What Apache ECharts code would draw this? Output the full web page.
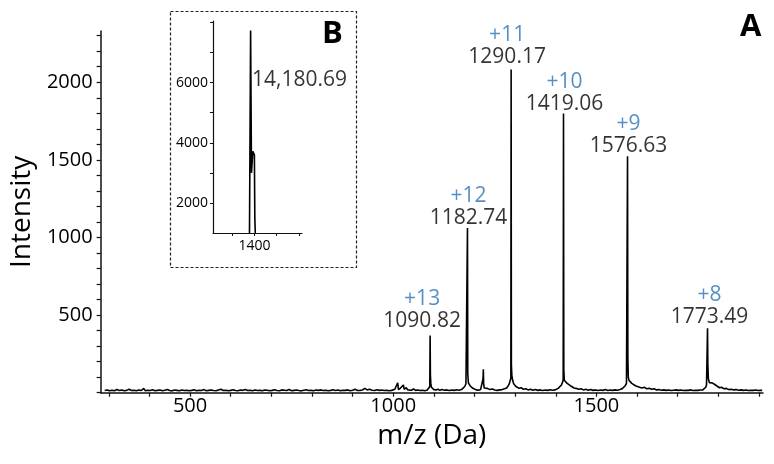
<!DOCTYPE html>
<html>
<head>
<meta charset="utf-8">
<script src="https://cdn.jsdelivr.net/npm/echarts@6/dist/echarts.min.js"></script>
<style>
html,body{margin:0;padding:0;background:#fff;}
#chart{width:774px;height:464px;}
</style>
</head>
<body>
<div id="chart"></div>
<script>
// ---- main spectrum (m/z, intensity) ----
const spectrumPoints = [
  [290,14],[296,18],[302,12],[308,16],[314,13],[320,20],[326,14],[332,17],[338,12],[344,15],
  [350,22],[356,14],[362,16],[368,12],[374,18],[380,14],[386,28],[390,13],[396,16],[402,14],
  [408,19],[414,12],[420,15],[426,17],[432,13],[438,16],[444,21],[450,14],[456,12],[462,17],
  [468,15],[474,13],[480,18],[486,14],[492,16],[498,12],[504,15],[510,19],[516,13],[522,16],
  [528,14],[534,20],[540,12],[546,15],[552,17],[558,14],[564,13],[570,18],[576,22],[582,14],
  [588,16],[594,12],[600,15],[606,19],[612,14],[618,13],[624,17],[630,15],[636,21],[642,14],
  [648,16],[654,12],[660,18],[666,14],[672,15],[678,13],[684,17],[690,16],[696,12],[702,15],
  [708,19],[714,14],[720,13],[726,18],[732,16],[738,14],[744,20],[750,13],[756,15],[762,17],
  [768,14],[774,12],[780,16],[786,19],[792,14],[798,15],[804,13],[810,17],[816,15],[822,18],
  [828,14],[834,16],[840,13],[846,15],[852,19],[858,14],[864,17],[870,12],[876,16],[882,15],
  [888,18],[894,13],[900,16],[906,22],[912,14],[918,15],[924,17],[930,28],[936,18],[942,22],
  [948,16],[954,14],[960,19],[966,15],[972,17],[978,14],[984,16],[990,13],[996,15],
  [1004,22],[1008,18],[1011,64],[1013,20],[1018,30],[1022,18],[1025,50],[1027,22],[1032,32],[1036,18],
  [1040,28],[1045,16],[1050,25],[1055,15],[1060,18],[1066,14],[1072,16],[1078,13],[1084,17],[1088,20],
  [1090,40],[1090.82,368],[1091.5,113],[1092.5,60],[1094,35],[1097,25],[1100,20],[1105,18],[1110,22],[1115,15],
  [1120,20],[1126,16],[1132,18],[1138,14],[1144,17],[1150,15],[1156,19],[1162,16],[1168,20],[1172,25],
  [1176,40],[1179,58],[1181,64],[1182,70],[1182.74,1061],[1183.5,120],[1185,64],[1187,55],[1189,45],[1192,35],
  [1196,28],[1200,22],[1205,18],[1210,16],[1215,20],[1219,30],[1221,90],[1221.8,151],[1222.5,60],[1224,30],
  [1228,22],[1232,28],[1238,20],[1244,24],[1250,17],[1256,15],[1262,18],[1268,20],[1274,25],[1279,30],
  [1283,45],[1286,60],[1288,80],[1289.5,93],[1290.17,2082],[1290.8,178],[1292,110],[1294,80],[1296,60],[1299,48],
  [1302,40],[1306,35],[1310,28],[1315,32],[1320,22],[1326,26],[1332,18],[1338,22],[1344,16],[1350,20],
  [1356,15],[1362,18],[1368,14],[1374,17],[1380,15],[1386,19],[1392,16],[1398,18],[1402,22],[1406,28],
  [1410,35],[1414,50],[1417,70],[1418.3,86],[1419.06,1798],[1419.8,150],[1421,80],[1424,70],[1428,60],[1432,50],
  [1436,45],[1440,38],[1445,30],[1450,28],[1456,22],[1462,26],[1468,18],[1474,22],[1480,16],[1486,20],
  [1492,15],[1498,18],[1504,14],[1510,17],[1516,15],[1522,20],[1528,14],[1534,17],[1540,15],[1546,18],
  [1552,16],[1558,20],[1563,25],[1567,32],[1571,45],[1574,60],[1575.8,71],[1576.63,1523],[1577.4,221],[1578.5,100],
  [1580,80],[1583,70],[1587,60],[1591,55],[1596,45],[1600,40],[1606,35],[1612,30],[1618,35],[1624,25],
  [1630,28],[1636,22],[1642,25],[1648,18],[1654,20],[1660,16],[1666,18],[1672,15],[1678,17],[1684,14],
  [1690,16],[1696,18],[1702,15],[1708,17],[1714,14],[1720,16],[1726,15],[1732,18],[1738,14],[1744,16],
  [1750,15],[1756,17],[1762,18],[1766,25],[1769,35],[1771,50],[1772.7,60],[1773.49,415],[1774.2,190],[1775.5,90],
  [1778,65],[1782,55],[1786,62],[1790,50],[1794,48],[1798,40],[1803,32],[1808,35],[1814,25],[1820,28],
  [1826,20],[1832,22],[1838,18],[1844,20],[1850,16],[1856,18],[1862,15],[1868,17],[1874,14],[1880,16],
  [1886,15],[1892,17],[1898,14],[1904,16],[1908,15]
];

// ---- labelled charge-state peaks ----
const peakMz = [1090.82, 1182.74, 1290.17, 1419.06, 1576.63, 1773.49];
const peakIntensity = [368, 1061, 2082, 1798, 1523, 415];
const peakCharge = ['+13', '+12', '+11', '+10', '+9', '+8'];
const peakLabel = ['1090.82', '1182.74', '1290.17', '1419.06', '1576.63', '1773.49'];

// ---- main axes ticks ----
const xTickValues = [300,400,500,600,700,800,900,1000,1100,1200,1300,1400,1500,1600,1700,1800,1900];
const xLabelValues = [500, 1000, 1500];
const yTickValues = [0,100,200,300,400,500,600,700,800,900,1000,1100,1200,1300,1400,1500,1600,1700,1800,1900,2000,2100,2200,2300];
const yLabelValues = [500, 1000, 1500, 2000];

// ---- inset (deconvoluted) ----
const insetPoints = [
  [1389,1000],[1391.5,7730],[1393.5,3000],[1396.5,3720],[1398,3680],[1400,3600],[1401,1500],[1402,1000]
];
const insetPeak = [1391.5, 7730];
const insetPeakLabel = '14,180.69';
const insetXTicks = [1350, 1400, 1450, 1500];
const insetXLabels = [1400];
const insetYTicks = [2000, 3000, 4000, 5000, 6000, 7000, 8000];
const insetYLabels = [2000, 4000, 6000];

// ---- build chart ----
const FONT = '"Open Sans", "Noto Sans", sans-serif';
const BLUE = '#2b74b6';
const AXIS = '#111111';
const TXT = '#000000';
const plain = v => String(v);

const labelOffsets = [[-8,-3],[1,2],[-4,0],[1,2],[1,2],[2,1]];
const peakData = peakMz.map((m, i) => ({
  value: [m, peakIntensity[i]],
  label: {
    offset: labelOffsets[i],
    formatter: '{c|' + peakCharge[i] + '}\n{m|' + peakLabel[i] + '}'
  }
}));

const chart = echarts.init(document.getElementById('chart'), null, {renderer: 'canvas'});
chart.setOption({
  animation: false,
  backgroundColor: '#ffffff',
  textStyle: {fontFamily: FONT},
  grid: [
    {left: 100, right: 11, top: 31, bottom: 71.3},
    {left: 213, right: 472, top: 21, bottom: 231}
  ],
  xAxis: [
    {
      type: 'value', gridIndex: 0, min: 280, max: 1910,
      name: 'm/z (Da)', nameLocation: 'middle', nameGap: 29,
      nameTextStyle: {fontSize: 28, color: TXT, fontFamily: FONT},
      axisLine: {show: true, onZero: false, lineStyle: {color: AXIS, width: 1.5}},
      axisTick: {show: true, customValues: xTickValues, length: 4, lineStyle: {color: AXIS, width: 1.2}},
      axisLabel: {customValues: xLabelValues, formatter: plain, fontSize: 20, color: TXT, margin: 4, fontFamily: FONT},
      splitLine: {show: false}
    },
    {
      type: 'value', gridIndex: 1, min: 1307, max: 1507,
      axisLine: {show: true, onZero: false, lineStyle: {color: AXIS, width: 1.2}},
      axisTick: {show: true, customValues: insetXTicks, length: 3, lineStyle: {color: AXIS, width: 1}},
      axisLabel: {customValues: insetXLabels, formatter: plain, fontSize: 14, color: TXT, margin: 6, fontFamily: FONT},
      splitLine: {show: false}
    }
  ],
  yAxis: [
    {
      type: 'value', gridIndex: 0, min: 0, max: 2330,
      name: 'Intensity', nameLocation: 'middle', nameGap: 64,
      nameTextStyle: {fontSize: 28, color: TXT, fontFamily: FONT},
      axisLine: {show: true, onZero: false, lineStyle: {color: AXIS, width: 1.5}},
      axisTick: {show: true, customValues: yTickValues, length: 4, lineStyle: {color: AXIS, width: 1.2}},
      axisLabel: {customValues: yLabelValues, formatter: plain, fontSize: 20, color: TXT, margin: 8, fontFamily: FONT},
      splitLine: {show: false}
    },
    {
      type: 'value', gridIndex: 1, min: 1000, max: 8050,
      axisLine: {show: true, onZero: false, lineStyle: {color: AXIS, width: 1.2}},
      axisTick: {show: true, customValues: insetYTicks, length: 3, lineStyle: {color: AXIS, width: 1}},
      axisLabel: {customValues: insetYLabels, formatter: plain, fontSize: 14, color: TXT, margin: 5, fontFamily: FONT},
      splitLine: {show: false}
    }
  ],
  series: [
    {
      type: 'line', xAxisIndex: 0, yAxisIndex: 0, data: spectrumPoints,
      showSymbol: false, symbol: 'none', silent: true,
      lineStyle: {color: '#000', width: 1.6}
    },
    {
      type: 'scatter', xAxisIndex: 0, yAxisIndex: 0, data: peakData,
      symbolSize: 0, silent: true,
      label: {
        show: true, position: 'top', distance: 1,
        rich: {
          c: {color: BLUE, fontSize: 21, lineHeight: 22, fontFamily: FONT, align: 'center'},
          m: {color: TXT, fontSize: 21, lineHeight: 22, fontFamily: FONT, align: 'center'}
        }
      }
    },
    {
      type: 'line', xAxisIndex: 1, yAxisIndex: 1, data: insetPoints,
      showSymbol: false, symbol: 'none', silent: true,
      lineStyle: {color: '#000', width: 1.6}
    },
    {
      type: 'scatter', xAxisIndex: 1, yAxisIndex: 1, data: [insetPeak],
      symbolSize: 0, silent: true,
      label: {
        show: true, position: 'right', distance: 1.5, offset: [0, 49],
        formatter: insetPeakLabel, fontSize: 21, color: TXT, fontFamily: FONT
      }
    }
  ],
  graphic: [
    {
      type: 'rect', left: 168, top: 9, silent: true,
      shape: {width: 186, height: 256},
      style: {fill: 'none', stroke: '#222', lineWidth: 1.2, lineDash: [3, 2]}
    },
    {
      type: 'text', left: 740, top: 12, silent: true,
      style: {text: 'A', font: 'bold 31px "Open Sans", sans-serif', fill: '#000'}
    },
    {
      type: 'text', left: 322, top: 19, silent: true,
      style: {text: 'B', font: 'bold 31px "Open Sans", sans-serif', fill: '#000'}
    }
  ]
});
</script>
</body>
</html>
